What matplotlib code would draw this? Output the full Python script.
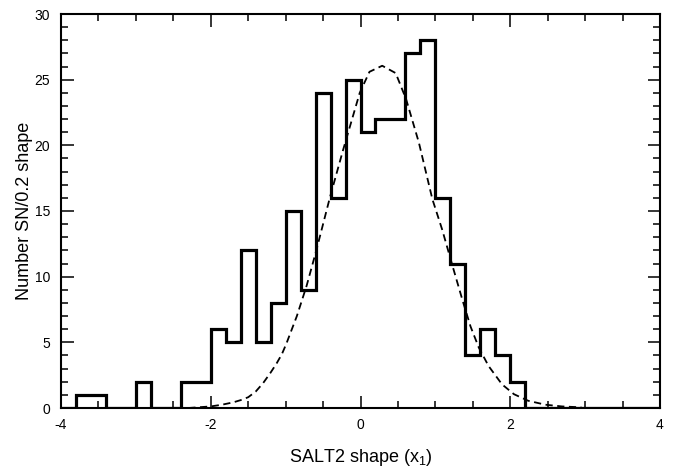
import matplotlib
matplotlib.use('Agg')
import matplotlib.pyplot as plt
from matplotlib.ticker import MultipleLocator

plt.rcParams['font.family'] = ['Liberation Sans', 'DejaVu Sans']
plt.rcParams['mathtext.fontset'] = 'custom'
plt.rcParams['mathtext.rm'] = 'Liberation Sans'
plt.rcParams['mathtext.it'] = 'Liberation Sans'
plt.rcParams['axes.unicode_minus'] = False

# histogram, bins of 0.2 in x1
bin_edges = [round(-4.0 + 0.2 * i, 1) for i in range(41)]
counts = [0, 1, 1, 0, 0, 2, 0, 0, 2, 2,
          6, 5, 12, 5, 8, 15, 9, 24, 16, 25,
          21, 22, 22, 27, 28, 16, 11, 4, 6, 4,
          2, 0, 0, 0, 0, 0, 0, 0, 0, 0]

# dashed model curve
curve_x = [-2.3, -2.0, -1.85, -1.7, -1.6, -1.5, -1.4, -1.3, -1.2, -1.12, -1.05,
           -0.99, -0.85, -0.72, -0.59, -0.41, -0.235, -0.01, 0.12, 0.29, 0.47,
           0.61, 0.78, 0.96, 1.09, 1.23, 1.36, 1.47, 1.58, 1.71, 1.89, 2.05,
           2.24, 2.47, 2.69, 2.95]
curve_y = [0.0, 0.12, 0.25, 0.43, 0.6, 0.82, 1.25, 1.9, 2.7, 3.4, 4.1,
           4.9, 7.0, 9.3, 12.0, 16.0, 19.6, 24.0, 25.6, 26.06, 25.5,
           23.5, 20.2, 15.9, 13.6, 10.8, 8.25, 6.2, 4.6, 3.2, 1.8, 1.05,
           0.55, 0.25, 0.12, 0.05]

fig = plt.figure(figsize=(6.76, 4.75), dpi=100)
ax = fig.add_axes([61 / 676, 1 - 408 / 475, 599 / 676, 394 / 475])

ax.stairs(counts, bin_edges, color='black', linewidth=2.3, baseline=0)
ax.plot(curve_x, curve_y, color='black', linestyle=(0, (4, 2.5)), linewidth=1.3)

ax.set_xlim(-4, 4)
ax.set_ylim(0, 30)
ax.xaxis.set_major_locator(MultipleLocator(2))
ax.xaxis.set_minor_locator(MultipleLocator(0.5))
ax.yaxis.set_major_locator(MultipleLocator(5))
ax.yaxis.set_minor_locator(MultipleLocator(1))
ax.tick_params(which='both', direction='in', top=True, right=True, width=1.1,
               labelsize=10)
ax.tick_params(which='major', length=9)
ax.tick_params(which='minor', length=5)
ax.tick_params(axis='x', pad=7)
ax.tick_params(axis='y', pad=8)
for s in ax.spines.values():
    s.set_linewidth(1.5)

ax.set_xlabel('SALT2 shape (x$_1$)', fontsize=13, labelpad=11)
ax.set_ylabel('Number SN/0.2 shape', fontsize=13, labelpad=1)

fig.savefig('out.png', dpi=100)
